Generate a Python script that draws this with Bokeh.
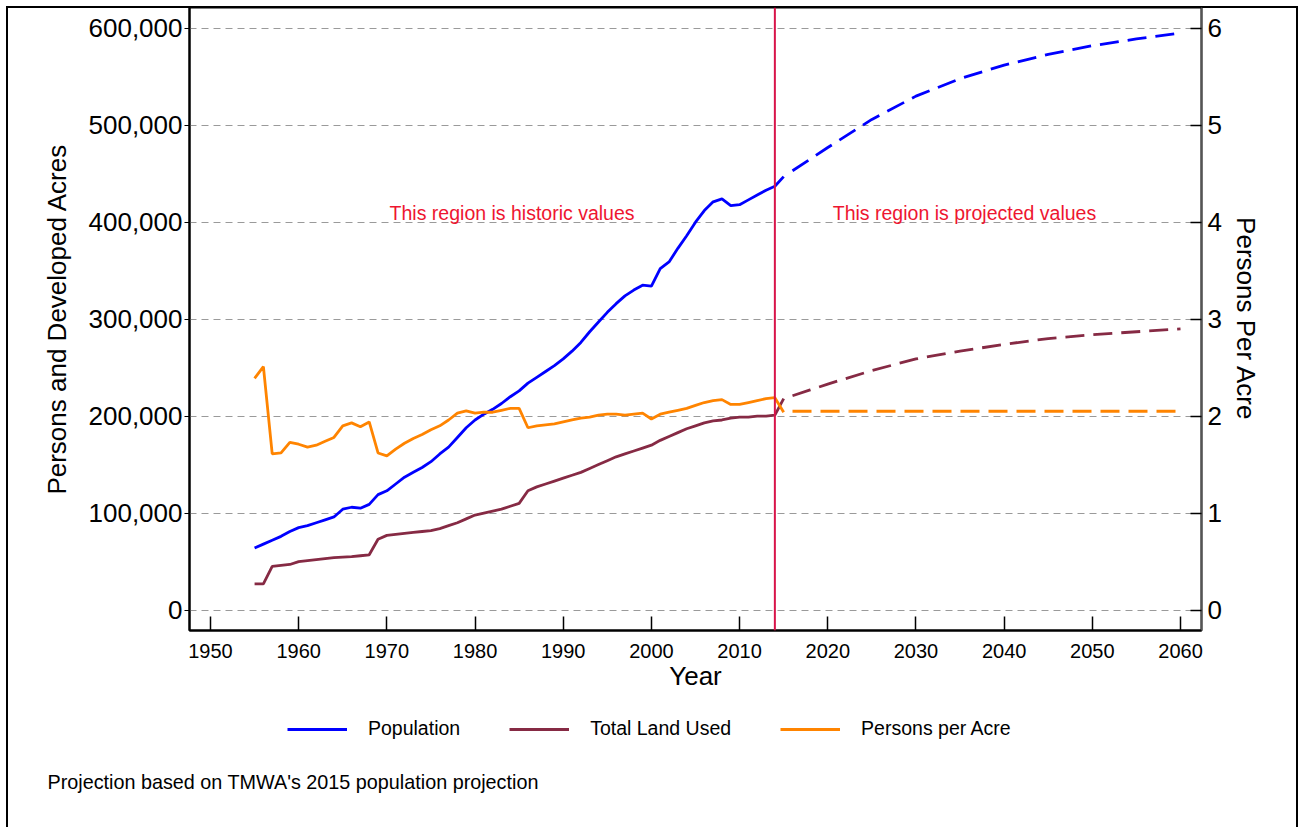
from bokeh.plotting import figure
from bokeh.layouts import column
from bokeh.models import (Range1d, LinearAxis, FixedTicker, NumeralTickFormatter,
                          Span, Label, Legend, LegendItem)
from bokeh.embed import file_html
from bokeh.resources import INLINE

# ---------------- data ----------------
years_hist = list(range(1955, 2016))
population_hist_k = [64, 68, 72, 76, 81, 85, 87, 90, 93, 96,
                     104, 106, 105, 109, 119, 123, 130, 137, 142, 147,
                     153, 161, 168, 178, 188, 196, 202, 207, 213, 220,
                     226, 234, 240, 246, 252, 259, 267, 276, 287, 297,
                     307, 316, 324, 330, 335, 334, 352, 359, 373, 386,
                     400, 412, 421, 424, 417, 418, 423, 428, 433, 437,
                     447]
land_hist_k = [27, 27, 45, 46, 47, 50, 51, 52, 53, 54,
               54.5, 55, 56, 57, 73, 77, 78, 79, 80, 81,
               82, 84, 87, 90, 94, 98, 100, 102, 104, 107,
               110, 123, 127, 130, 133, 136, 139, 142, 146, 150,
               154, 158, 161, 164, 167, 170, 175, 179, 183, 187,
               190, 193, 195, 196, 198, 199, 199, 200, 200, 201,
               218]
ppa_hist = [2.39, 2.51, 1.61, 1.62, 1.73, 1.71, 1.68, 1.70, 1.74, 1.78,
            1.90, 1.93, 1.89, 1.94, 1.62, 1.59, 1.66, 1.72, 1.77, 1.81,
            1.86, 1.90, 1.96, 2.03, 2.055, 2.03, 2.04, 2.04, 2.06, 2.08,
            2.08, 1.88, 1.90, 1.91, 1.92, 1.94, 1.96, 1.98, 1.99, 2.01,
            2.02, 2.02, 2.01, 2.02, 2.03, 1.97, 2.02, 2.04, 2.06, 2.08,
            2.11, 2.14, 2.16, 2.17, 2.12, 2.12, 2.14, 2.16, 2.18, 2.19,
            2.04]

years_proj = [2016, 2018, 2020, 2025, 2030, 2035, 2040, 2045, 2050, 2055, 2060]
population_proj_k = [453, 465, 477, 506, 530, 548, 562, 573, 582, 589, 595]
land_proj_k = [221, 227, 233, 247, 259, 267, 274, 280, 284, 287, 290]
ppa_proj = [2.05, 2.05, 2.05, 2.05, 2.05, 2.05, 2.05, 2.05, 2.05, 2.05, 2.05]

x_ticks = [1950, 1960, 1970, 1980, 1990, 2000, 2010, 2020, 2030, 2040, 2050, 2060]
left_ticks = [0, 100000, 200000, 300000, 400000, 500000, 600000]
right_ticks = [0, 1, 2, 3, 4, 5, 6]
split_year = 2014

series_names = ["Population", "Total Land Used", "Persons per Acre"]
note_text = "Projection based on TMWA's 2015 population projection"

# ---------------- styling ----------------
FONT = "Liberation Sans"
BLUE = "#0000ff"
MAROON = "#862a44"
ORANGE = "#ff8400"
RED = "#ee1530"
LW = 2.8
DASH = "19 9"

W = 1300
H1 = 700
H2 = 127

p = figure(width=W, height=H1,
           x_range=Range1d(1947.62, 2062.38),
           y_range=Range1d(-21100, 621400),
           output_backend="svg", toolbar_location=None,
           min_border_left=189, min_border_right=99,
           min_border_top=7, min_border_bottom=70)
p.frame_align = False
p.extra_y_ranges = {"ppa": Range1d(-0.211, 6.214)}

p.border_fill_color = None
p.background_fill_color = "white"
p.outline_line_color = "black"
p.outline_line_width = 2
p.styles = {"box-shadow": "inset 6px 6px 0 0 #fff, inset -2px 0 0 0 #fff, "
                          "inset 8px 8px 0 0 #000, inset -4px 0 0 0 #000"}

# grid
p.xgrid.visible = False
p.ygrid.ticker = FixedTicker(ticks=left_ticks)
p.ygrid.grid_line_color = "#9a9a9a"
p.ygrid.grid_line_dash = "7 5"
p.ygrid.grid_line_width = 1.2

# x axis
xa = p.xaxis[0]
xa.ticker = FixedTicker(ticks=x_ticks)
xa.axis_label = "Year"
xa.axis_label_text_font = FONT
xa.axis_label_text_font_size = "26px"
xa.axis_label_text_font_style = "normal"
xa.axis_label_text_color = "black"
xa.axis_label_standoff = 0
xa.major_label_text_font = FONT
xa.major_label_text_font_size = "20px"
xa.major_label_text_color = "black"
xa.major_label_standoff = 13
xa.major_tick_in = 14
xa.major_tick_out = 0
xa.major_tick_line_width = 1.5
xa.minor_tick_line_color = None
xa.axis_line_width = 2

# left axis
ya = p.yaxis[0]
ya.ticker = FixedTicker(ticks=left_ticks)
ya.formatter = NumeralTickFormatter(format="0,0")
ya.axis_label = "Persons and Developed Acres"
ya.axis_label_text_font = FONT
ya.axis_label_text_font_size = "26px"
ya.axis_label_text_font_style = "normal"
ya.axis_label_text_color = "black"
ya.axis_label_standoff = 14
ya.major_label_text_font = FONT
ya.major_label_text_font_size = "26px"
ya.major_label_text_color = "black"
ya.major_label_orientation = "horizontal"
ya.major_label_standoff = 2
ya.major_tick_in = 0
ya.major_tick_out = 5
ya.minor_tick_line_color = None
ya.axis_line_width = 2

# right axis
ra = LinearAxis(y_range_name="ppa", ticker=FixedTicker(ticks=right_ticks),
                axis_label="Persons Per Acre")
ra.axis_label_text_font = FONT
ra.axis_label_text_font_size = "26px"
ra.axis_label_text_font_style = "normal"
ra.axis_label_text_color = "black"
ra.axis_label_standoff = 6
ra.major_label_text_font = FONT
ra.major_label_text_font_size = "26px"
ra.major_label_text_color = "black"
ra.major_label_orientation = "horizontal"
ra.major_label_standoff = 6
ra.major_tick_in = 11
ra.major_tick_out = 0
ra.major_tick_line_width = 1.5
ra.minor_tick_line_color = None
ra.axis_line_color = "#555555"
ra.axis_line_width = 1.5
p.add_layout(ra, "right")

# ---------------- lines ----------------
population_hist = [v * 1000 for v in population_hist_k]
land_hist = [v * 1000 for v in land_hist_k]
population_proj = [v * 1000 for v in population_proj_k]
land_proj = [v * 1000 for v in land_proj_k]

p.line(years_hist, population_hist, line_color=BLUE, line_width=LW)
p.line(years_hist, land_hist, line_color=MAROON, line_width=LW)
p.line(years_hist, ppa_hist, line_color=ORANGE, line_width=LW, y_range_name="ppa")

p.line(years_proj, population_proj, line_color=BLUE, line_width=LW, line_dash=DASH)
p.line(years_proj, land_proj, line_color=MAROON, line_width=LW, line_dash=DASH)
p.line(years_proj, ppa_proj, line_color=ORANGE, line_width=LW, line_dash=DASH, y_range_name="ppa")

p.add_layout(Span(location=split_year, dimension="height", line_color="#d8144a", line_width=2))

for txt, xx in [("This region is historic values", 1984.2),
                ("This region is projected values", 2035.5)]:
    p.add_layout(Label(x=xx, y=409000, text=txt, text_align="center", text_baseline="middle",
                       text_color=RED, text_font=FONT, text_font_size="19.5px"))

# ---------------- legend + note panel ----------------
p2 = figure(width=W, height=H2, x_range=Range1d(0, W), y_range=Range1d(0, H2),
            output_backend="svg", toolbar_location=None,
            x_axis_type=None, y_axis_type=None,
            min_border_left=0, min_border_right=0, min_border_top=0, min_border_bottom=0)
p2.frame_align = False
p2.xgrid.visible = False
p2.ygrid.visible = False
p2.outline_line_color = None
p2.background_fill_color = None
p2.border_fill_color = None
p2.styles = {"box-shadow": "inset 6px 0 0 0 #fff, inset -2px 0 0 0 #fff, "
                           "inset 8px 0 0 0 #000, inset -4px 0 0 0 #000"}

# legend keys (kept off-screen; only their styles are shown in the legend)
off_x = [-200, -100]
off_y = [-200, -200]
key_pop = p2.line(off_x, off_y, line_color=BLUE, line_width=LW)
key_land = p2.line(off_x, off_y, line_color=MAROON, line_width=LW)
key_ppa = p2.line(off_x, off_y, line_color=ORANGE, line_width=LW)

leg = Legend(items=[LegendItem(label=series_names[0], renderers=[key_pop]),
                    LegendItem(label=series_names[1], renderers=[key_land]),
                    LegendItem(label=series_names[2], renderers=[key_ppa])],
             location=(287, 87), orientation="horizontal",
             padding=0, margin=0, spacing=49,
             glyph_width=60, glyph_height=20, label_height=20, label_standoff=21,
             label_text_font=FONT, label_text_font_size="19.5px",
             label_text_color="black", border_line_color=None,
             background_fill_alpha=0)
p2.add_layout(leg)

p2.add_layout(Label(x=47, y=46, x_units="screen", y_units="screen", text=note_text,
                    text_align="left", text_baseline="middle", text_color="black",
                    text_font=FONT, text_font_size="19.8px"))

layout = column(p, p2, spacing=0)
open("out.html", "w").write(file_html(layout, INLINE))
